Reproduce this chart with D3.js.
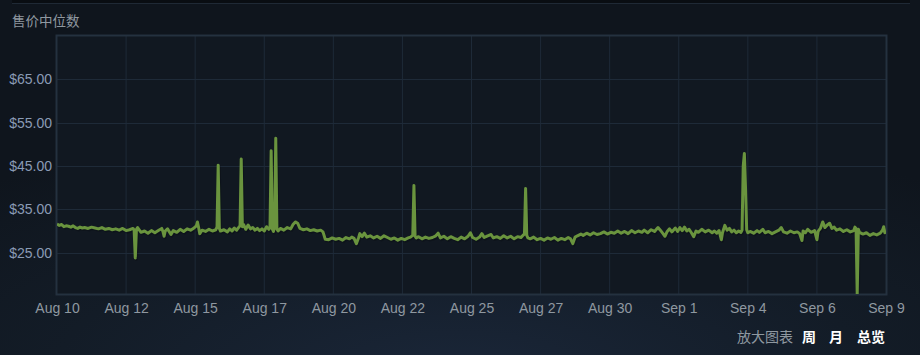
<!DOCTYPE html>
<html lang="zh">
<head>
    <meta charset="UTF-8">
    <title>售价中位数</title>
    <script src="https://cdn.jsdelivr.net/npm/d3@7/dist/d3.min.js"></script>
    <style>
        html, body {
            margin: 0;
            padding: 0;
            width: 920px;
            height: 355px;
            overflow: hidden;
            background: radial-gradient(ellipse 80% 70% at 50% 105%, #1a2638 0%, #131c27 55%, #0f151d 100%);
        }
        #mainsvg {
            display: block;
        }
    </style>
</head>
<body>
    <svg width="920" height="355" id="mainsvg"></svg>
    <script>
        // hours since Aug 10 00:00, and the median price at that hour
        const hours = [
            0, 2, 4, 6, 8, 10, 12, 14, 16, 18, 20, 22, 24,
            27, 30, 33, 36, 39, 42, 45, 48,
            51, 54, 57, 60, 63, 66, 67, 68, 69, 70,
            73, 76, 79, 82, 85, 88, 91, 92, 93, 94, 96, 99, 101, 104, 107, 110, 113, 116, 119,
            121, 122, 123, 124, 126, 129, 132, 135, 138, 139, 140, 141, 142,
            145, 148, 150, 152, 154, 156, 158, 159, 160, 161, 162, 164, 166, 168, 170, 172, 174, 176, 178, 180, 182, 184, 185,
            186, 187, 188, 189, 190, 191, 192, 194, 197, 200, 203, 205, 207, 209, 211, 214, 217, 220, 223, 226, 229, 231,
            233, 236, 239, 242, 245, 248, 251, 254, 256, 258, 260, 262, 263, 265, 267, 269, 272, 275, 278, 281, 284, 287,
            290, 293, 296, 299, 302, 305, 307, 309, 310, 311, 312, 314, 317, 320, 323, 326, 329, 331, 333, 336, 339, 342,
            345, 348, 351, 354, 357, 359, 361, 364, 367, 369, 371, 374, 377, 379, 382, 385, 388, 391, 394, 397, 400, 403,
            405, 406, 407, 408, 409, 411, 414, 417, 420, 423, 426, 429, 432, 435,
            438, 441, 444, 446, 448, 450, 452, 455, 457, 460, 463, 466, 469, 472, 475, 478, 481, 484, 487, 490, 493, 496,
            499, 502, 505, 508, 510, 513, 516, 519, 521, 522, 524, 526, 528, 530, 532, 534, 537, 539, 541, 543, 545, 547,
            549, 551, 553, 555, 557, 560, 563, 566, 569, 571, 573, 575, 577, 578, 580, 582, 584, 586, 588, 590, 592, 594,
            595, 596, 597, 598, 599, 600, 602, 605, 608, 610, 613, 615, 618, 621, 624, 627, 629, 631, 634, 637, 640, 643,
            645, 647, 648, 650, 652, 655, 658, 660, 661, 663, 665, 667, 669, 671, 673, 675, 677, 680, 683, 686, 689, 692,
            693, 694, 695, 696, 697, 700, 703, 706, 709, 712, 715, 717, 718, 719, 720
        ];
        const prices = [
            31.6, 31.3, 31.5, 31.0, 31.2, 31.1, 30.9, 31.2, 30.8, 30.6, 30.9, 30.7, 30.8,
            30.6, 30.9, 30.7, 30.5, 30.8, 30.4, 30.6, 30.3,
            30.5, 30.2, 30.6, 30.1, 30.3, 30.6, 30.2, 23.8, 30.4, 30.8,
            29.7, 30.0, 29.5, 30.1, 29.6, 30.1, 30.6, 29.9, 28.8, 30.0, 30.5, 29.2, 30.1, 29.7, 30.4, 29.9, 30.5, 30.2, 30.7,
            31.2, 32.1, 30.8, 29.4, 30.2, 29.9, 30.4, 30.0, 30.3, 31.0, 45.2, 30.6, 30.0,
            30.3, 29.8, 30.5, 30.0, 30.7, 30.2, 30.9, 31.2, 46.6, 31.0, 31.5, 30.4, 31.4, 30.5, 30.8, 30.2, 30.6, 30.1, 30.5, 30.0, 31.0, 30.4, 30.8,
            48.5, 30.5, 29.9, 31.2, 51.4, 30.4, 30.0, 30.6, 30.2, 30.8, 30.5, 31.5, 32.1, 31.8, 30.6, 30.3, 30.5, 30.1, 30.3, 30.0, 30.2, 29.8,
            28.1, 28.0, 28.4, 28.1, 28.3, 27.9, 28.5, 28.2, 28.6, 28.3, 27.1, 28.5, 29.4, 28.7, 29.5, 28.6, 28.9, 28.4, 28.8, 28.3, 28.9, 28.5,
            28.1, 28.4, 27.9, 28.3, 28.0, 28.4, 28.6, 29.0, 40.5, 28.8, 28.4, 28.7, 28.2, 28.6, 28.3, 28.5, 28.9, 29.5, 28.4, 28.8, 28.2, 28.7,
            28.3, 28.0, 28.6, 28.2, 28.8, 29.6, 28.5, 28.1, 28.6, 29.4, 28.5, 28.9, 29.2, 28.4, 28.7, 28.3, 28.9, 28.4, 28.8, 28.2, 28.7, 28.5,
            29.1, 29.3, 39.8, 29.0, 28.4, 28.2, 28.6, 28.0, 28.3, 27.9, 28.4, 28.1, 28.5, 27.9,
            28.3, 28.0, 28.5, 28.2, 27.1, 28.6, 28.9, 29.3, 29.0, 29.5, 29.1, 29.6, 29.2, 29.4, 29.8, 29.3, 29.7, 29.5, 30.0, 29.5, 29.9, 29.4,
            30.1, 29.6, 30.0, 29.7, 30.2, 29.6, 30.3, 29.9, 30.5, 30.8, 30.2, 29.5, 28.8, 29.9, 30.5, 29.8, 30.7, 29.9, 30.8, 30.1, 30.9, 30.0,
            30.4, 29.6, 28.7, 30.0, 29.7, 30.4, 29.8, 30.2, 29.6, 30.0, 29.5, 30.1, 28.0, 29.6, 31.3, 30.2, 30.6, 29.8, 30.2, 29.6, 30.0, 29.7,
            30.2, 45.0, 47.9, 40.0, 30.3, 29.6, 29.9, 29.5, 30.1, 29.7, 30.4, 29.6, 29.9, 29.4, 29.8, 30.2, 30.8, 29.8, 29.5, 30.0, 29.6, 29.8,
            29.4, 27.8, 30.0, 29.6, 30.4, 29.7, 30.1, 28.0, 29.9, 30.6, 32.1, 30.8, 31.4, 31.8, 30.6, 30.9, 30.2, 30.5, 29.9, 30.3, 29.8, 30.1,
            30.9, 30.6, 15.47, 30.4, 29.7, 29.3, 29.6, 29.0, 29.4, 29.1, 29.5, 30.2, 31.0, 29.6, 30.0
        ];
        const startDate = new Date(2023, 7, 10);
        const xTickDates = [
            "2023-08-10T00:00", "2023-08-12T12:00", "2023-08-15T00:00", "2023-08-17T12:00",
            "2023-08-20T00:00", "2023-08-22T12:00", "2023-08-25T00:00", "2023-08-27T12:00",
            "2023-08-30T00:00", "2023-09-01T12:00", "2023-09-04T00:00", "2023-09-06T12:00",
            "2023-09-09T00:00"
        ];
        const yTicks = [25, 35, 45, 55, 65];
        const yDomain = [15.47, 75];
        const title = "售价中位数";
        const zoomLabel = "放大图表";
        const zoomButtons = ["周", "月", "总览"];

        let svg = d3.select('svg');
        const margin = {top: 36, right: 34, bottom: 61, left: 57};
        const width = +svg.attr('width');
        const height = +svg.attr('height');
        const innerWidth = width - margin.left - margin.right;
        const innerHeight = height - margin.top - margin.bottom;
        const font = "'Liberation Sans', Arial, sans-serif";
        const cjk = "'Noto Sans CJK SC', sans-serif";

        // top rule
        svg.append('rect').attr('x', 12).attr('y', 0).attr('width', 898).attr('height', 3).attr('fill', '#090d12');
        svg.append('rect').attr('x', 12).attr('y', 3).attr('width', 898).attr('height', 1).attr('fill', '#1f2935');

        svg.append('text')
            .attr('x', 12).attr('y', 26)
            .attr('font-family', cjk).attr('font-size', 13.5)
            .attr('fill', '#8f98a0')
            .text(title);

        const data = hours.map((h, i) => ({date: new Date(+startDate + h * 3600e3), price: prices[i]}));
        const ticks = xTickDates.map(s => new Date(s));

        const x = d3.scaleTime()
            .domain([startDate, ticks[ticks.length - 1]])
            .range([0, innerWidth]);
        const y = d3.scaleLinear().domain(yDomain).range([innerHeight, 0]);

        const g = svg.append('g').attr('transform', `translate(${margin.left}, ${margin.top})`);

        g.append('rect').attr('width', innerWidth).attr('height', innerHeight).attr('fill', '#111821');

        // grid
        g.append('g').selectAll('line').data(ticks.slice(1, -1)).join('line')
            .attr('x1', d => x(d)).attr('x2', d => x(d))
            .attr('y1', 0).attr('y2', innerHeight)
            .attr('stroke', '#1e2a38').attr('stroke-width', 1);
        g.append('g').selectAll('line').data(yTicks).join('line')
            .attr('x1', 0).attr('x2', innerWidth)
            .attr('y1', d => Math.round(y(d)) + 0.5).attr('y2', d => Math.round(y(d)) + 0.5)
            .attr('stroke', '#1e2a38').attr('stroke-width', 1);

        // axes
        const xAxis = d3.axisBottom(x).tickValues(ticks).tickFormat(d3.timeFormat('%b %-d')).tickSize(0).tickPadding(9);
        const xg = g.append('g').attr('transform', `translate(0, ${innerHeight})`).call(xAxis);
        xg.select('.domain').remove();
        xg.selectAll('text').attr('fill', '#8f98a0').attr('font-family', font).attr('font-size', 14);

        const yAxis = d3.axisLeft(y).tickValues(yTicks).tickFormat(d => '$' + d3.format('.2f')(d)).tickSize(0).tickPadding(5);
        const yg = g.append('g').call(yAxis);
        yg.select('.domain').remove();
        yg.selectAll('text').attr('fill', '#8a9bb5').attr('font-family', font).attr('font-size', 14);

        // border
        g.append('rect').attr('x', -0.5).attr('y', -0.5)
            .attr('width', innerWidth + 1).attr('height', innerHeight + 1)
            .attr('fill', 'none').attr('stroke', '#24313f').attr('stroke-width', 2);

        g.append('clipPath').attr('id', 'clip')
            .append('rect').attr('width', innerWidth).attr('height', innerHeight);

        const line = d3.line().x(d => x(d.date)).y(d => y(d.price));

        const plot = g.append('g').attr('clip-path', 'url(#clip)');
        plot.append('path').datum(data)
            .attr('d', line)
            .attr('transform', 'translate(1, 1.5)')
            .attr('fill', 'none').attr('stroke', 'rgba(0,0,0,0.18)')
            .attr('stroke-width', 3.2).attr('stroke-linejoin', 'round');
        plot.append('path').datum(data)
            .attr('d', line)
            .attr('fill', 'none').attr('stroke', '#6a943e')
            .attr('stroke-width', 3).attr('stroke-linejoin', 'round');

        // zoom controls
        const ctrl = svg.append('g').attr('font-family', cjk).attr('font-size', 14);
        ctrl.append('text').attr('x', 793).attr('y', 342).attr('text-anchor', 'end')
            .attr('fill', '#8f98a0').text(zoomLabel);
        const btnX = [802, 829, 857];
        ctrl.selectAll('text.btn').data(zoomButtons).join('text')
            .attr('class', 'btn')
            .attr('x', (d, i) => btnX[i]).attr('y', 342)
            .attr('fill', '#ffffff').attr('font-weight', 'bold')
            .text(d => d);
    </script>
</body>
</html>
